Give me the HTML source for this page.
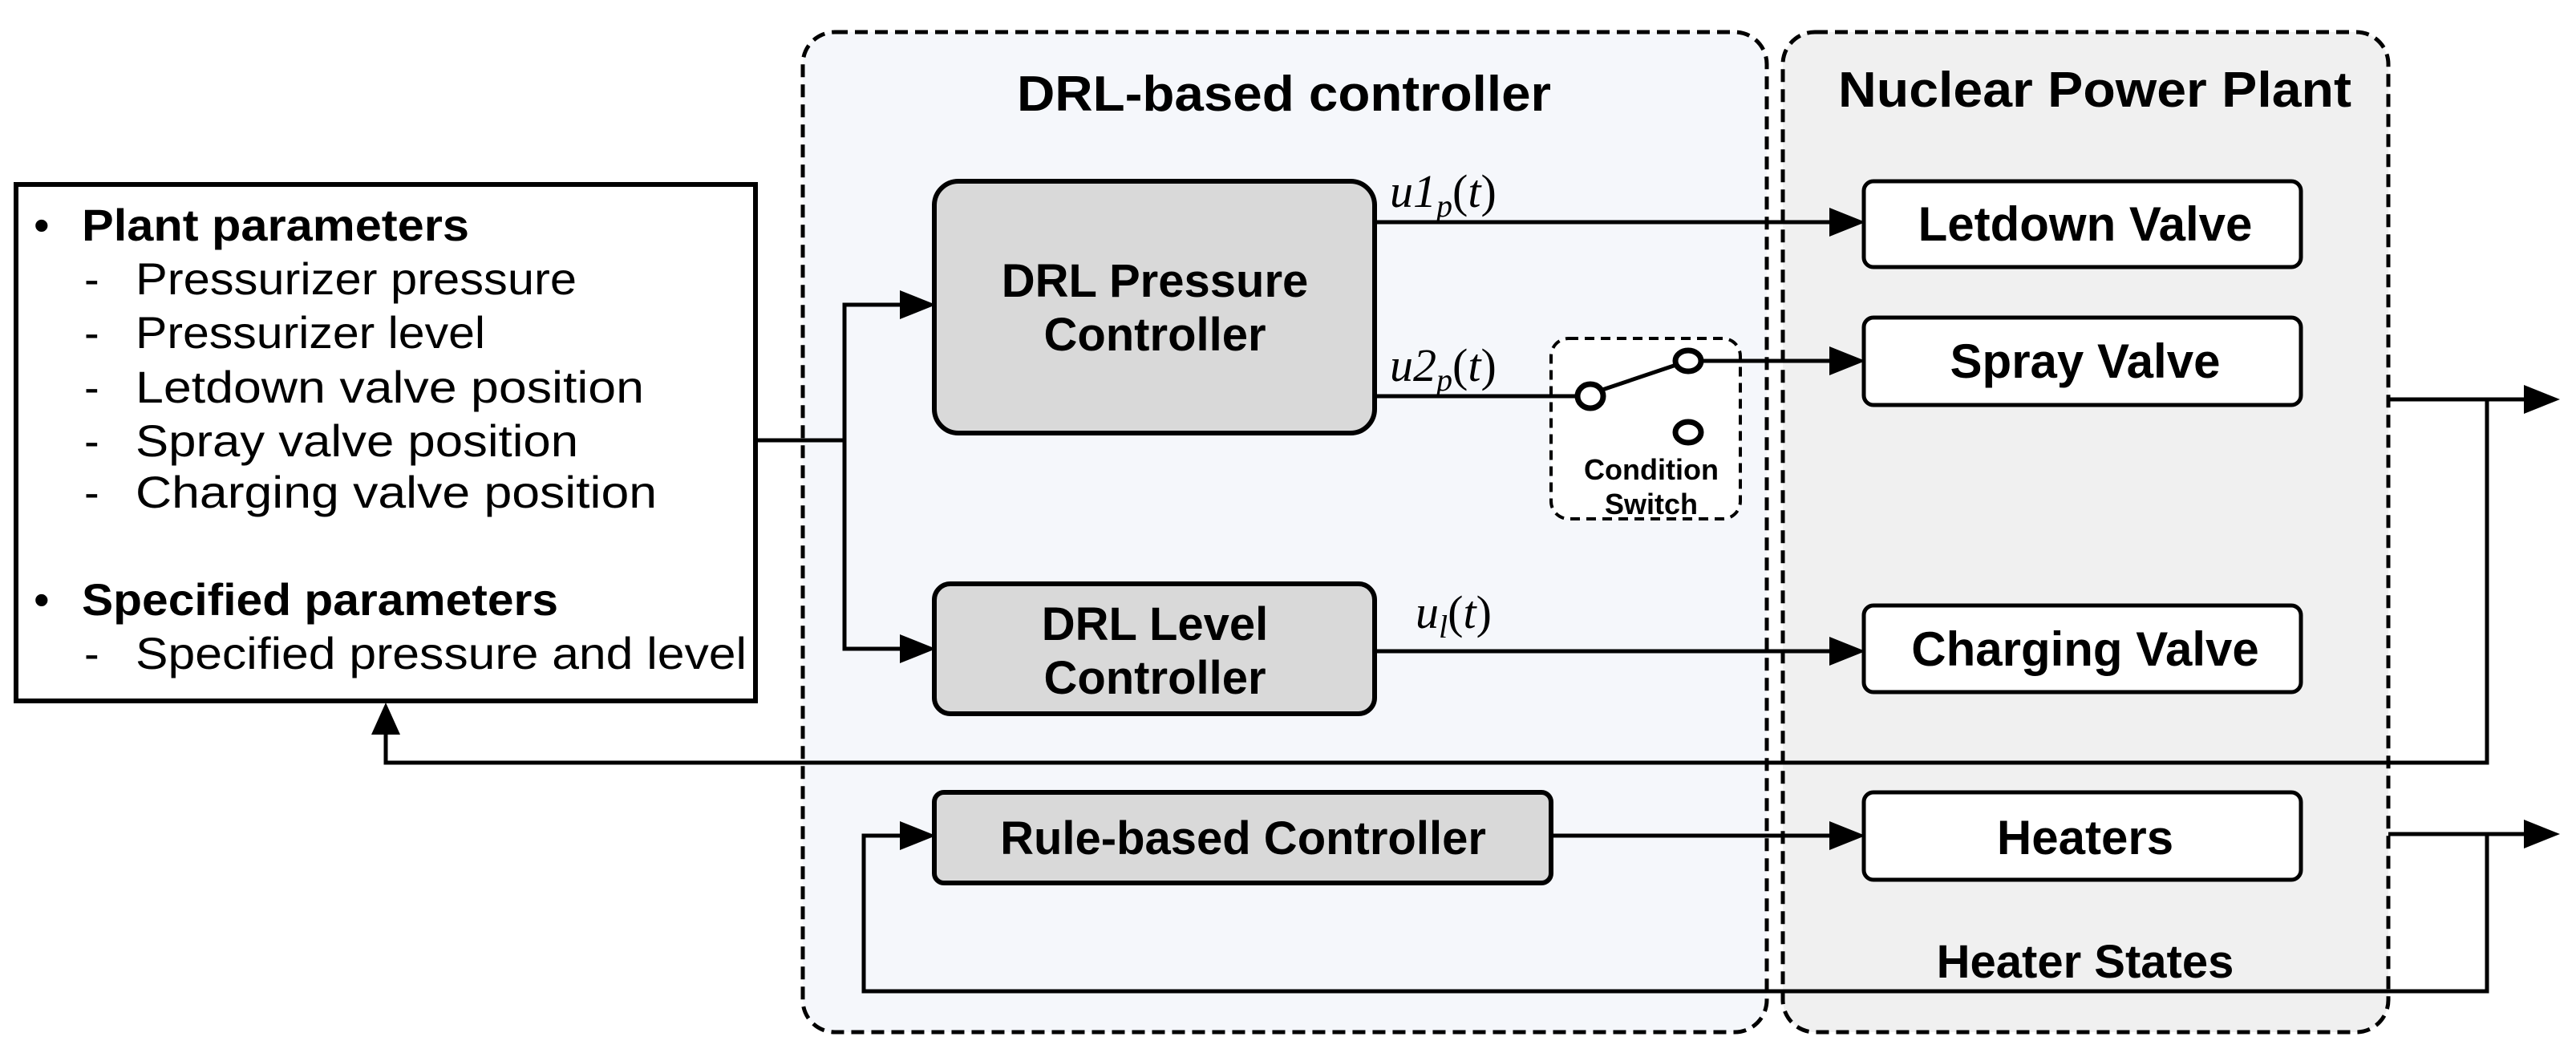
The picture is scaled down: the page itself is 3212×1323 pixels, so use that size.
<!DOCTYPE html>
<html><head><meta charset="utf-8"><style>
html,body{margin:0;padding:0;background:#fff;}
svg{display:block;}
text{font-family:"Liberation Sans",sans-serif;}
.b{font-weight:bold;}
.m{font-family:"Liberation Serif",serif;font-style:italic;}
</style></head><body>
<svg width="3212" height="1323" viewBox="0 0 3212 1323" xmlns="http://www.w3.org/2000/svg">
<!-- containers -->
<rect x="1001" y="40" width="1202" height="1247" rx="40" fill="#f5f7fb" stroke="#000" stroke-width="5" stroke-dasharray="16,9"/>
<rect x="2223" y="40" width="755" height="1247" rx="40" fill="#f0f0f0" stroke="#000" stroke-width="5" stroke-dasharray="16,9"/>
<text x="1601" y="138" font-size="62" class="b" text-anchor="middle" textLength="666" lengthAdjust="spacingAndGlyphs">DRL-based controller</text>
<text x="2612" y="133" font-size="62" class="b" text-anchor="middle" textLength="640" lengthAdjust="spacingAndGlyphs">Nuclear Power Plant</text>

<!-- left box -->
<rect x="20" y="230" width="922" height="644" fill="#fff" stroke="#000" stroke-width="6"/>
<g font-size="56">
<text x="42" y="300">•</text><text x="102" y="300" class="b" textLength="483" lengthAdjust="spacingAndGlyphs">Plant parameters</text>
<text x="105" y="367">-</text><text x="169" y="367" textLength="550" lengthAdjust="spacingAndGlyphs">Pressurizer pressure</text>
<text x="105" y="434">-</text><text x="169" y="434" textLength="436" lengthAdjust="spacingAndGlyphs">Pressurizer level</text>
<text x="105" y="502">-</text><text x="169" y="502" textLength="634" lengthAdjust="spacingAndGlyphs">Letdown valve position</text>
<text x="105" y="569">-</text><text x="169" y="569" textLength="552" lengthAdjust="spacingAndGlyphs">Spray valve position</text>
<text x="105" y="633">-</text><text x="169" y="633" textLength="650" lengthAdjust="spacingAndGlyphs">Charging valve position</text>
<text x="42" y="767">•</text><text x="102" y="767" class="b" textLength="594" lengthAdjust="spacingAndGlyphs">Specified parameters</text>
<text x="105" y="834">-</text><text x="169" y="834" textLength="762" lengthAdjust="spacingAndGlyphs">Specified pressure and level</text>
</g>

<!-- controllers -->
<rect x="1165" y="226" width="549" height="314" rx="30" fill="#d9d9d9" stroke="#000" stroke-width="6"/>
<text x="1440" y="370" font-size="58" class="b" text-anchor="middle">DRL Pressure</text>
<text x="1440" y="437" font-size="58" class="b" text-anchor="middle">Controller</text>
<rect x="1165" y="728" width="549" height="162" rx="20" fill="#d9d9d9" stroke="#000" stroke-width="6"/>
<text x="1440" y="798" font-size="58" class="b" text-anchor="middle">DRL Level</text>
<text x="1440" y="865" font-size="58" class="b" text-anchor="middle">Controller</text>
<rect x="1165" y="988" width="769" height="113" rx="12" fill="#d9d9d9" stroke="#000" stroke-width="6"/>
<text x="1550" y="1065" font-size="58" class="b" text-anchor="middle">Rule-based Controller</text>

<!-- plant boxes -->
<g fill="#fff" stroke="#000" stroke-width="5">
<rect x="2324" y="226" width="545" height="107" rx="12"/>
<rect x="2324" y="396" width="545" height="109" rx="12"/>
<rect x="2324" y="755" width="545" height="108" rx="12"/>
<rect x="2324" y="988" width="545" height="109" rx="12"/>
</g>
<g font-size="60" class="b" text-anchor="middle">
<text x="2600" y="300">Letdown Valve</text>
<text x="2600" y="471">Spray Valve</text>
<text x="2600" y="830">Charging Valve</text>
<text x="2600" y="1065">Heaters</text>
<text x="2600" y="1219" font-size="58">Heater States</text>
</g>

<!-- switch -->
<rect x="1934" y="422" width="236" height="225" rx="22" fill="#fff" stroke="#000" stroke-width="4" stroke-dasharray="12,8"/>
<text x="2059" y="598" font-size="36" class="b" text-anchor="middle">Condition</text>
<text x="2059" y="641" font-size="36" class="b" text-anchor="middle">Switch</text>

<!-- lines -->
<g stroke="#000" stroke-width="5" fill="none">
<polyline points="942,549 1053,549"/>
<polyline points="1135,380 1053,380 1053,809 1135,809"/>
<line x1="1714" y1="277" x2="2295" y2="277"/>
<line x1="1714" y1="494" x2="1966" y2="494"/>
<line x1="1998" y1="486" x2="2090" y2="455"/>
<line x1="2121" y1="450" x2="2295" y2="450"/>
<line x1="1714" y1="812" x2="2295" y2="812"/>
<line x1="1934" y1="1042" x2="2295" y2="1042"/>
<polyline points="2978,498 3155,498"/>
<polyline points="3101,498 3101,951 481,951 481,905"/>
<polyline points="2978,1040 3155,1040"/>
<polyline points="3101,1040 3101,1236 1077,1236 1077,1042 1135,1042"/>
</g>
<g fill="#fff" stroke="#000" stroke-width="7">
<ellipse cx="1983" cy="494" rx="16" ry="15"/>
<ellipse cx="2105" cy="450" rx="16" ry="13"/>
<ellipse cx="2105" cy="539" rx="16" ry="13"/>
</g>
<!-- arrowheads -->
<g fill="#000">
<polygon points="1167,380 1122,362 1122,398"/>
<polygon points="1167,809 1122,791 1122,827"/>
<polygon points="1167,1042 1122,1024 1122,1060"/>
<polygon points="2326,277 2281,259 2281,295"/>
<polygon points="2326,450 2281,432 2281,468"/>
<polygon points="2326,812 2281,794 2281,830"/>
<polygon points="2326,1042 2281,1024 2281,1060"/>
<polygon points="3192,498 3147,480 3147,516"/>
<polygon points="3192,1040 3147,1022 3147,1058"/>
<polygon points="481,876 463,916 499,916"/>
</g>

<!-- math labels -->
<g font-size="58">
<text x="1733" y="258" class="m">u1<tspan font-size="40" dy="12">p</tspan><tspan dy="-12" font-style="normal">(</tspan>t<tspan font-style="normal">)</tspan></text>
<text x="1733" y="475" class="m">u2<tspan font-size="40" dy="12">p</tspan><tspan dy="-12" font-style="normal">(</tspan>t<tspan font-style="normal">)</tspan></text>
<text x="1765" y="783" class="m">u<tspan font-size="40" dy="12">l</tspan><tspan dy="-12" font-style="normal">(</tspan>t<tspan font-style="normal">)</tspan></text>
</g>
</svg>
</body></html>
